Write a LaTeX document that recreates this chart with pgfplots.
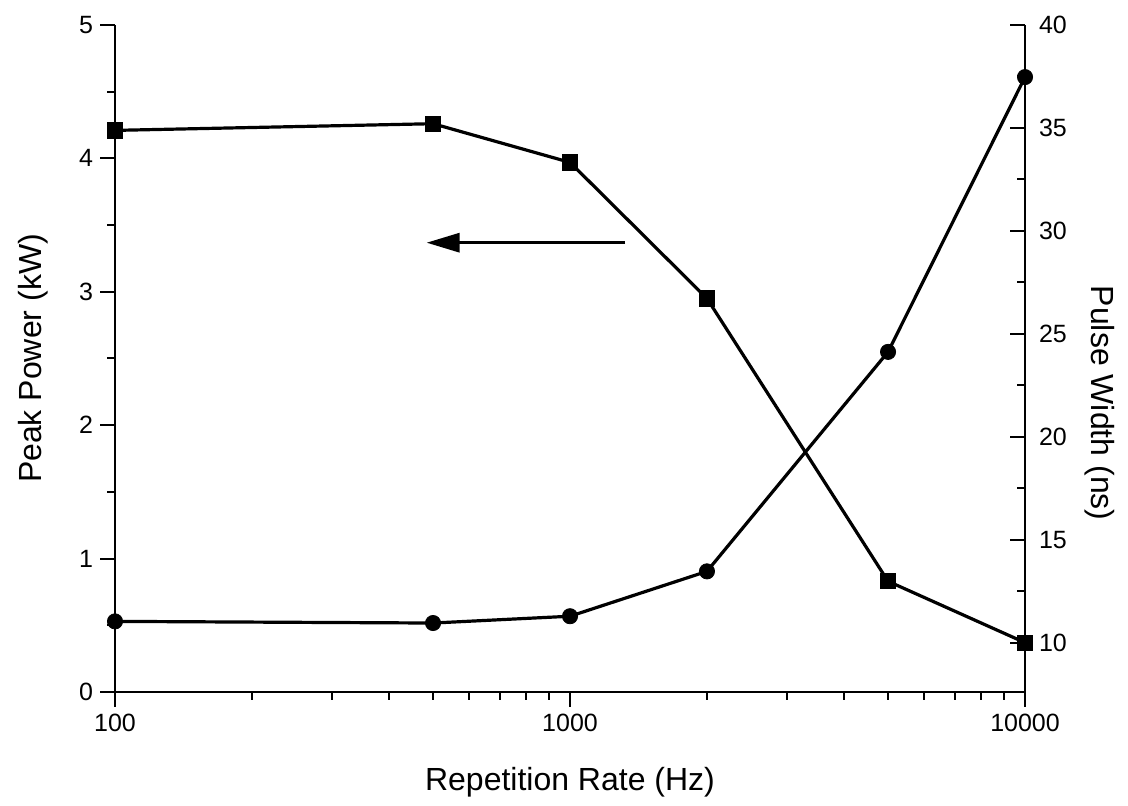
\documentclass[border=0pt]{standalone}
\usepackage{pgfplots}
\pgfplotsset{compat=1.18}
\usepackage{fontspec}
\setmainfont{Liberation Sans}
\usetikzlibrary{arrows.meta}
\pgfplotsset{
  common/.style={
    scale only axis, width=455pt, height=333.5pt,
    xmin=100, xmax=10000,
    enlargelimits=false, clip=false,
    axis line style={line width=1.1pt},
    every tick/.style={line width=1pt, black},
    major tick length=7.5pt, minor tick length=4pt,
    /pgf/number format/assume math mode=true,
    tick label style={font=\fontsize{12.5}{15}\selectfont},
  }
}
\begin{document}
\begin{tikzpicture}
\path[use as bounding box] (-57.5pt,-57pt) rectangle (506.5pt,346pt);
\begin{semilogxaxis}[common,
  axis x line*=bottom, axis y line*=left, tick align=outside,
  xtick={100,1000,10000}, xticklabels={100,1000,10000},
  minor xtick={200,300,400,500,600,700,800,900,2000,3000,4000,5000,6000,7000,8000,9000},
  ymin=0, ymax=5, ytick={0,1,2,3,4,5}, minor ytick={0.5,1.5,2.5,3.5,4.5},
  xlabel={Repetition Rate (Hz)}, ylabel={Peak Power (kW)},
  xlabel style={at={(axis description cs:0.5,-0.1484)}, anchor=base, font=\fontsize{16}{19}\selectfont},
  ylabel style={at={(axis description cs:-0.0901,0.5)}, anchor=center, font=\fontsize{16}{19}\selectfont},
]
\addplot[black, line width=1.6pt, mark=square*, mark size=3.8pt, mark options={solid, fill=black, line width=0.4pt}]
  coordinates {(100,4.21) (500,4.26) (1000,3.97) (2000,2.95) (5000,0.83) (10000,0.37)};
\draw[line width=1.6pt, -{Triangle[length=16.5pt,width=9.5pt]}] (axis cs:1321,3.368) -- (axis cs:484,3.368);
\end{semilogxaxis}
\begin{semilogxaxis}[common,
  axis x line=none, axis y line*=right, tick align=inside,
  ymin=7.6, ymax=40, ytick={10,15,20,25,30,35,40}, minor ytick={12.5,17.5,22.5,27.5,32.5,37.5},
  yticklabel style={xshift=3.5pt},
  ylabel={Pulse Width (ns)},
  ylabel style={at={(axis description cs:1.0824,0.433)}, anchor=center, rotate=180, font=\fontsize{16}{19}\selectfont},
]
\addplot[black, line width=1.6pt, mark=*, mark size=3.8pt, mark options={solid, fill=black, line width=0.4pt}]
  coordinates {(100,11.03) (500,10.95) (1000,11.28) (2000,13.46) (5000,24.12) (10000,37.47)};
\end{semilogxaxis}
\end{tikzpicture}
\end{document}
